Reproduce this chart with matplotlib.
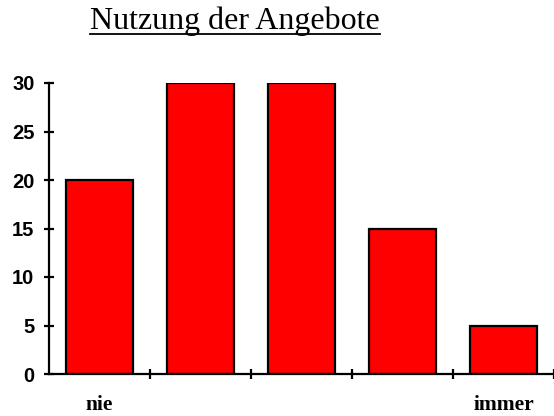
import numpy as np
import matplotlib.pyplot as plt
from matplotlib.lines import Line2D

# data
categories = ["nie", "", "", "", "immer"]
values = [20, 30, 30, 15, 5]
yticks = [0, 5, 10, 15, 20, 25, 30]

fig = plt.figure(figsize=(5.54, 4.16), dpi=100)
ax = fig.add_axes([49 / 554, 42 / 416, 1 - 49 / 554, 291 / 416])

x = np.arange(len(values))
ax.bar(x, values, width=0.67, color="#ff0000", edgecolor="black", linewidth=1.6, zorder=2)

ax.set_xlim(-0.5, len(values) - 0.5)
ax.set_ylim(0, 30)

for s in ["top", "right"]:
    ax.spines[s].set_visible(False)
for s in ["left", "bottom"]:
    ax.spines[s].set_linewidth(1.6)
    ax.spines[s].set_zorder(3)

# y axis
ax.set_yticks(yticks)
ax.tick_params(axis="y", direction="inout", length=7, width=1.6, pad=7)
for lab in ax.get_yticklabels():
    lab.set_fontfamily("Liberation Sans")
    lab.set_fontweight("bold")
    lab.set_fontsize(14.5)

# x axis: boundary ticks, labels under first/last bars
ax.set_xticks(x + 0.5)
ax.set_xticklabels([])
ax.tick_params(axis="x", which="major", direction="inout", length=7, width=1.6)
ax.set_xticks(x, minor=True)
ax.set_xticklabels(categories, minor=True, fontfamily="Liberation Serif",
                   fontweight="bold", fontsize=15.5)
ax.tick_params(axis="x", which="minor", length=0, pad=15)
for t in ax.xaxis.get_major_ticks():
    t.tick1line.set_clip_on(False)

# title with underline
title = fig.text(235 / 554, 1 - 29 / 416, "Nutzung der Angebote",
                 fontfamily="Liberation Serif", fontsize=23,
                 ha="center", va="baseline")
fig.canvas.draw()
bb = title.get_window_extent().transformed(fig.transFigure.inverted())
uy = 1 - 34 / 416
fig.add_artist(Line2D([bb.x0, bb.x1], [uy, uy], color="black", linewidth=1.3,
                      transform=fig.transFigure))

fig.savefig("out.png", dpi=100)
